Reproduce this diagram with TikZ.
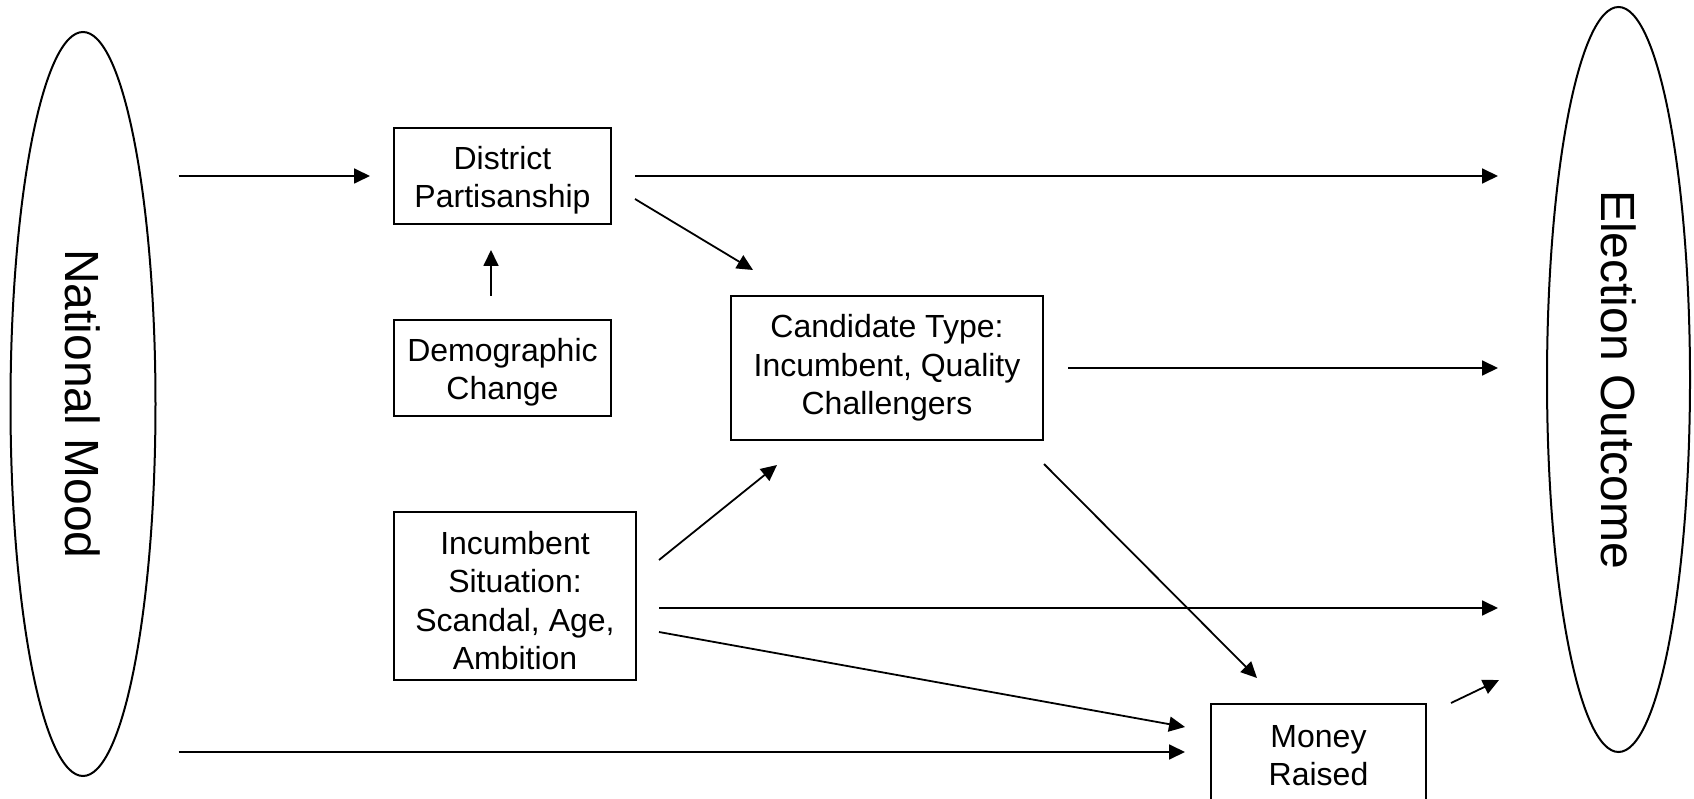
\documentclass[tikz,border=0pt]{standalone}
\usepackage{fontspec}
\setmainfont{Liberation Sans}
\usetikzlibrary{shapes.geometric,arrows.meta,calc}

\newcommand{\dropline}[1][32pt]{\rule{0pt}{#1}}

\tikzset{
  factor/.style={draw=black, line width=2pt, rectangle, inner sep=0pt, align=center,
                 font=\fontsize{32}{38.5}\selectfont},
  mood/.style={draw=black, line width=2pt, ellipse, inner sep=0pt, rotate=-90,
               font=\fontsize{48}{56}\selectfont},
  arr/.style={-{Triangle[length=16pt,width=15pt]}, line width=1.8pt},
}

\begin{document}
\begin{tikzpicture}[x=1pt,y=-1pt]
    \useasboundingbox (0,0) rectangle (1694,799);
    % outer ellipses
    \node[mood, minimum width=744pt, minimum height=145pt] (nm) at (  83,404) {National Mood};
    \node[mood, minimum width=745pt, minimum height=143pt] (eo) at (1618.5,379.5) {Election Outcome};
    % boxes
    \node[factor, minimum width=217pt, minimum height= 96pt] (dist)  at ( 502.5,176) {\dropline District\\Partisanship};
    \node[factor, minimum width=217pt, minimum height= 96pt] (demo)  at ( 502.5,368) {\dropline Demographic\\Change};
    \node[factor, minimum width=312pt, minimum height=144pt] (cand)  at ( 887,368) {Candidate Type:\\Incumbent, Quality\\Challengers};
    \node[factor, minimum width=242pt, minimum height=168pt] (inc)   at ( 515,596) {\dropline Incumbent\\Situation:\\Scandal, Age,\\Ambition};
    \node[factor, minimum width=215pt, minimum height= 96pt] (money) at (1318.5,752) {\dropline[29pt]Money\\Raised};
    % arrows
    \draw[arr, shorten <=22pt, shorten >=23pt] (dist.west -| nm.north) -- (dist.west);
    \draw[arr, shorten <=23pt, shorten >=48pt] (dist.east) -- (dist.east -| eo.south);
    \draw[arr] ($(dist.east)+(23,23)$) -- ($(cand.north west)+(23,-25)$);
    \draw[arr] ($(demo.north)+(-11.5,-23)$) -- ($(dist.south)+(-11.5,25)$);
    \draw[arr, shorten <=24pt, shorten >=48pt] (cand.east) -- (cand.east -| eo.south);
    \draw[arr] ($(inc.east)+(22,-36)$) -- ($(cand.south west)+(47,24)$);
    \draw[arr] ($(inc.east)+(22,12)$) -- ($(inc.east -| eo.south)+(-48,12)$);
    \draw[arr] ($(inc.east)+(22,36)$) -- ($(money.west)+(-25,-25)$);
    \draw[arr] ($(cand.south east)+(0,23)$) -- ($(money.north west)+(47,-25)$);
    \draw[arr, shorten <=22pt, shorten >=25pt] (money.west -| nm.north) -- (money.west);
    \draw[arr] ($(money.north east)+(24,0)$) -- ($(money.north east)+(72,-23)$);
    %\draw[arr] (demo.east) -- (cand.west);
\end{tikzpicture}
\end{document}
